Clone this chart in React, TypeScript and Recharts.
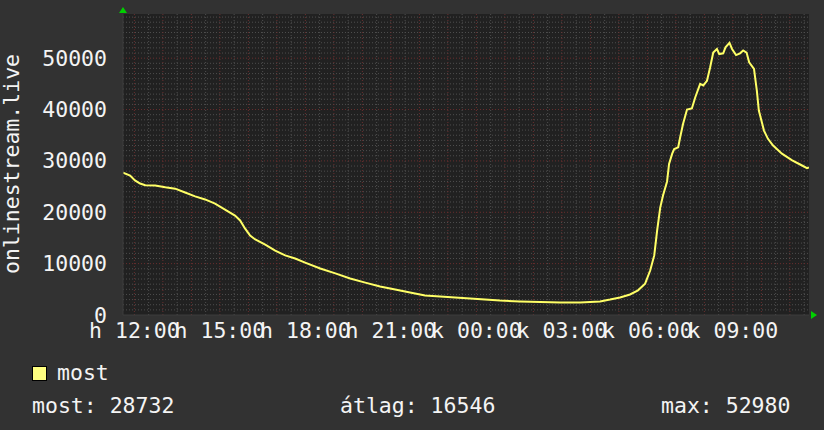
import { LineChart, Line, XAxis, YAxis, CartesianGrid, ReferenceLine, ReferenceDot } from 'recharts'

// hours since 12:00 on day "h" (hétfő); 24h window ending ~11:40 on "k"
const hours = [
  -0.4, -0.15, 0.02, 0.2, 0.38, 0.73, 1.08, 1.43, 1.78, 2.13, 2.48, 2.83, 3.18, 3.53, 3.71, 3.88,
  4.06, 4.24, 4.59, 4.94, 5.29, 5.64, 5.99, 6.52, 7.05, 7.57, 8.1, 8.62, 9.15, 9.67, 10.2, 10.73,
  11.25, 11.78, 12.3, 12.83, 13.53, 14.24, 14.94, 15.64, 16.34, 16.69, 17.04, 17.39, 17.67, 17.92,
  18.1, 18.24, 18.34, 18.45, 18.55, 18.69, 18.76, 18.87, 18.94, 19.08, 19.15, 19.25, 19.39, 19.56,
  19.68, 19.85, 19.96, 20.09, 20.2, 20.31, 20.44, 20.52, 20.66, 20.74, 20.88, 20.97, 21.11, 21.25,
  21.36, 21.48, 21.57, 21.74, 21.84, 21.91, 22.0, 22.09, 22.23, 22.41, 22.72, 23.08, 23.36, 23.6, 23.67,
]
const viewers = [
  27700, 27150, 26200, 25600, 25250, 25200, 24850, 24600, 23850, 23100, 22500, 21700, 20500, 19350, 18400, 16850,
  15450, 14700, 13700, 12550, 11600, 11000, 10200, 9050, 8100, 7100, 6300, 5550, 4950, 4400, 3800, 3600,
  3400, 3200, 3000, 2800, 2650, 2550, 2450, 2450, 2650, 3000, 3400, 4000, 4800, 6100,
  8700, 11600, 16400, 20900, 23300, 26000, 29400, 31400, 32300, 32650, 34600, 37200, 40000, 40200,
  42400, 45000, 44700, 45600, 48200, 51100, 51800, 50800, 50950, 52100, 52980, 51800, 50600, 50950,
  51500, 51100, 49200, 47900, 43700, 39800, 37850, 35900, 34300, 33000, 31400, 30100, 29300, 28600, 28732,
]

const xTicks = [0, 3, 6, 9, 12, 15, 18, 21]
const xTickLabels = ['h 12:00', 'h 15:00', 'h 18:00', 'h 21:00', 'k 00:00', 'k 03:00', 'k 06:00', 'k 09:00']
const yTicks = [0, 10000, 20000, 30000, 40000, 50000]
const xDomain = [-0.4, 23.67]
const yDomain = [0, 58600]

const axisTitle = 'onlinestream.live'
const seriesName = 'most'
const statLabels = ['most: 28732', 'átlag: 16546', 'max: 52980']

const data = hours.map((h, i) => ({ h, v: viewers[i] }))

const minorY = Array.from({ length: 58 }, (_, i) => (i + 1) * 1000).filter(v => v % 10000 !== 0)
const majorY = [10000, 20000, 30000, 40000, 50000]
const majorX = Array.from({ length: 24 }, (_, i) => i)
const minorX = Array.from({ length: 24 }, (_, i) => i + 0.5)

const FONT = '"DejaVu Sans Mono", monospace'
const TXT = '#f4f4f4'
const FS = 21.5

const XTick = (p: any) => {
  const i = xTicks.indexOf(p.payload.value)
  return (
    <text x={p.x} y={p.y + 23} textAnchor="middle" fill={TXT} fontFamily={FONT} fontSize={FS}>
      {xTickLabels[i]}
    </text>
  )
}

const YTick = (p: any) => (
  <text x={p.x} y={p.y + 7.5} textAnchor="end" fill={TXT} fontFamily={FONT} fontSize={FS}>
    {p.payload.value}
  </text>
)

const UpArrow = (p: any) => (
  <polygon points={`${p.cx - 4},${p.cy - 1} ${p.cx + 4},${p.cy - 1} ${p.cx},${p.cy - 7}`} fill="#00d000" />
)
const RightArrow = (p: any) => (
  <polygon points={`${p.cx + 2},${p.cy - 4} ${p.cx + 2},${p.cy + 4} ${p.cx + 8},${p.cy}`} fill="#00d000" />
)

export default function App() {
  return (
    <div style={{ position: 'absolute', left: 0, top: 0, width: 824, height: 430, background: '#323232', fontFamily: FONT, color: TXT }}>
      <LineChart width={824} height={430} data={data} margin={{ top: 14, right: 15, bottom: 0, left: 0 }}>
        <CartesianGrid horizontal={false} vertical={false} fill="#212121" />
        {minorY.map(v => (
          <ReferenceLine key={'my' + v} y={v} stroke="#4e4e4e" strokeDasharray="1 2" />
        ))}
        {minorX.map(v => (
          <ReferenceLine key={'mx' + v} x={v} stroke="#4e4e4e" strokeDasharray="1 2" />
        ))}
        {majorY.map(v => (
          <ReferenceLine key={'My' + v} y={v} stroke="#6a2e2e" strokeDasharray="1 2" />
        ))}
        {majorX.map(v => (
          <ReferenceLine key={'Mx' + v} x={v} stroke="#6a2e2e" strokeDasharray="1 2" />
        ))}
        <XAxis
          dataKey="h" type="number" domain={xDomain} ticks={xTicks} allowDataOverflow
          height={115} tickLine={false} tickSize={0} tickMargin={0}
          axisLine={{ stroke: '#3c3c3c' }} tick={<XTick />} interval={0}
        />
        <YAxis
          type="number" domain={yDomain} ticks={yTicks} allowDataOverflow
          width={123} tickLine={false} tickSize={0} tickMargin={16}
          axisLine={{ stroke: '#3c3c3c' }} tick={<YTick />} interval={0}
        />
        <Line
          dataKey="v" type="linear" stroke="#ffff66" strokeWidth={2}
          dot={false} isAnimationActive={false}
        />
        <ReferenceDot x={xDomain[0]} y={yDomain[1]} r={0} ifOverflow="visible" shape={<UpArrow />} />
        <ReferenceDot x={xDomain[1]} y={0} r={0} ifOverflow="visible" shape={<RightArrow />} />
      </LineChart>

      <div style={{
        position: 'absolute', left: 12, top: 164, fontSize: FS, whiteSpace: 'nowrap', lineHeight: 1,
        transform: 'translate(-50%, -50%) rotate(-90deg)',
      }}>{axisTitle}</div>

      <div style={{ position: 'absolute', left: 32, top: 366, width: 13, height: 13, background: '#ffff80', border: '1px solid #000' }} />
      <div style={{ position: 'absolute', left: 57, top: 362, fontSize: FS, lineHeight: 1 }}>{seriesName}</div>

      <div style={{ position: 'absolute', left: 32, top: 395, fontSize: FS, lineHeight: 1, whiteSpace: 'nowrap' }}>{statLabels[0]}</div>
      <div style={{ position: 'absolute', left: 340, top: 395, fontSize: FS, lineHeight: 1, whiteSpace: 'nowrap' }}>{statLabels[1]}</div>
      <div style={{ position: 'absolute', left: 661, top: 395, fontSize: FS, lineHeight: 1, whiteSpace: 'nowrap' }}>{statLabels[2]}</div>
    </div>
  )
}
